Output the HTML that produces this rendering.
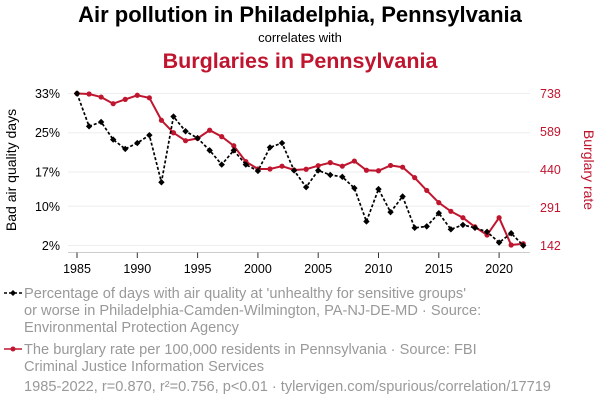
<!DOCTYPE html>
<html><head><meta charset="utf-8"><style>
body{margin:0;background:#fff;width:600px;height:408px;overflow:hidden;font-family:"Liberation Sans",sans-serif}
svg text{font-family:"Liberation Sans",sans-serif}
</style></head><body>
<svg id="chart" width="600" height="408">
<text x="300" y="22" text-anchor="middle" font-size="22" font-weight="bold" fill="#000">Air pollution in Philadelphia, Pennsylvania</text>
<text x="300" y="42" text-anchor="middle" font-size="13" fill="#000">correlates with</text>
<text x="300" y="68" text-anchor="middle" font-size="21.5" font-weight="bold" fill="#c0152f">Burglaries in Pennsylvania</text>
<g id="grid"></g><g id="axes"></g><g id="series"></g>
<text transform="translate(16,170) rotate(-90)" text-anchor="middle" font-size="14" fill="#000">Bad air quality days</text>
<text transform="translate(584,170) rotate(90)" text-anchor="middle" font-size="14" fill="#c0152f">Burglary rate</text>
<g>
<line x1="4" y1="293" x2="22" y2="293" stroke="#000" stroke-width="1.5" stroke-dasharray="3,2"/>
<path d="M13 290 L16 293 L13 296 L10 293Z" fill="#000"/>
<text font-size="14.6" fill="#999"><tspan x="24" y="298">Percentage of days with air quality at 'unhealthy for sensitive groups'</tspan><tspan x="24" y="315">or worse in Philadelphia-Camden-Wilmington, PA-NJ-DE-MD · Source:</tspan><tspan x="24" y="332">Environmental Protection Agency</tspan></text>
</g>
<g>
<line x1="4" y1="349" x2="22" y2="349" stroke="#c0152f" stroke-width="1.5"/>
<circle cx="13" cy="349" r="2.5" fill="#c0152f"/>
<text font-size="14.6" fill="#999"><tspan x="24" y="354">The burglary rate per 100,000 residents in Pennsylvania · Source: FBI</tspan><tspan x="24" y="371">Criminal Justice Information Services</tspan></text>
</g>
<text x="24" y="391" font-size="14.6" fill="#999">1985-2022, r=0.870, r²=0.756, p&lt;0.01 · tylervigen.com/spurious/correlation/17719</text>
</svg>
<script>
const years=[1985,1986,1987,1988,1989,1990,1991,1992,1993,1994,1995,1996,1997,1998,1999,2000,2001,2002,2003,2004,2005,2006,2007,2008,2009,2010,2011,2012,2013,2014,2015,2016,2017,2018,2019,2020,2021,2022];
const airValues=[33.0,26.3,27.2,23.6,21.7,22.9,24.5,14.9,28.3,25.3,23.9,21.4,18.5,21.4,18.5,17.2,22.0,22.9,17.3,13.9,17.3,16.4,16.0,13.7,6.9,13.5,8.8,12.0,5.6,5.9,8.6,5.3,6.2,5.6,4.8,2.6,4.5,2.0];
const burglaryValues=[738,736,724,698,715,731,721,633,584,553,562,594,569,533,471,442,442,453,438,441,455,467,453,473,437,435,456,449,408,358,310,276,251,215,183,251,144,149];
const leftTicks=[2,10,17,25,33];
const leftTickLabels=["2%","10%","17%","25%","33%"];
const rightTicks=[142,291,440,589,738];
const xTicks=[1985,1990,1995,2000,2005,2010,2015,2020];
const NS="http://www.w3.org/2000/svg";
const X=y=>77+(y-1985)*12.06;
const YL=v=>245.5-(v-2)*152/31;
const YR=v=>245.5-(v-142)*152/596;
function mk(p,t,a){const e=document.createElementNS(NS,t);for(const k in a)e.setAttribute(k,a[k]);p.appendChild(e);return e;}
const grid=document.getElementById('grid'),axes=document.getElementById('axes'),ser=document.getElementById('series');
leftTicks.forEach((v,i)=>{
 const l=mk(grid,'line',{x1:68,x2:530,y1:YL(v),y2:YL(v),stroke:'#eee','stroke-width':1});
 
 
 const t=mk(axes,'text',{x:60,y:YL(v)+4.5,'text-anchor':'end','font-size':12.5,fill:'#000'});
 t.textContent=leftTickLabels[i];
 
 
});
rightTicks.forEach(v=>{
 const t=mk(axes,'text',{x:540,y:YR(v)+4.5,'font-size':12.5,fill:'#c0152f'});
 t.textContent=v;
 
 
});
const ax=mk(axes,'line',{x1:68,x2:530,y1:252.5,y2:252.5,stroke:'#ccc'});


xTicks.forEach(y=>{
 mk(axes,'line',{x1:X(y),x2:X(y),y1:252.5,y2:258,stroke:'#333'});
 const t=mk(axes,'text',{x:X(y),y:273,'text-anchor':'middle','font-size':12.5,fill:'#000'});
 t.textContent=y;
 
 
});
const bl=mk(ser,'polyline',{points:years.map((y,i)=>X(y)+','+YR(burglaryValues[i])).join(' '),fill:'none',stroke:'#c0152f','stroke-width':2});


years.forEach((y,i)=>{
 const c=mk(ser,'circle',{cx:X(y),cy:YR(burglaryValues[i]),r:2.6,fill:'#c0152f'});
 
 
});
const al=mk(ser,'polyline',{points:years.map((y,i)=>X(y)+','+YL(airValues[i])).join(' '),fill:'none',stroke:'#000','stroke-width':1.7,'stroke-dasharray':'3,2'});


years.forEach((y,i)=>{
 const x=X(y),v=YL(airValues[i]);
 const p=mk(ser,'path',{d:`M${x} ${v-3.2}L${x+3.2} ${v}L${x} ${v+3.2}L${x-3.2} ${v}Z`,fill:'#000'});
 
 
});
</script>
</body></html>
